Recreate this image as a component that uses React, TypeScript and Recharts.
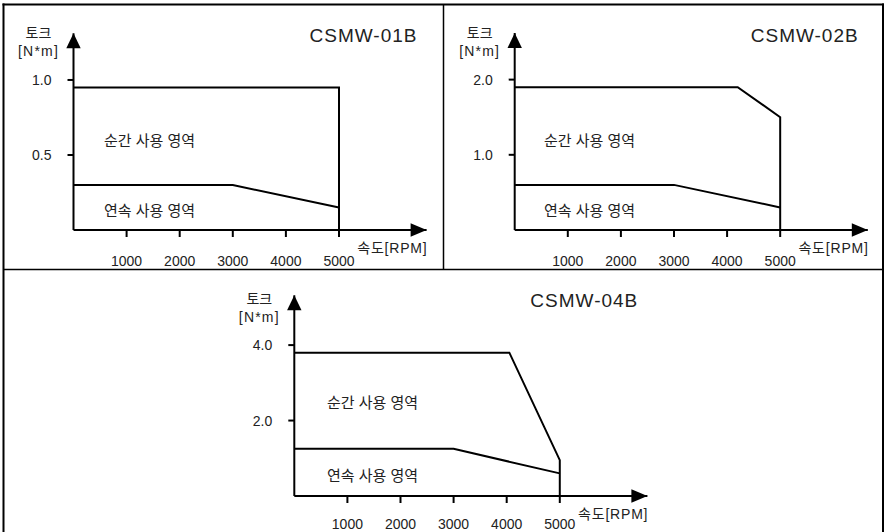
import React from 'react';
import { LineChart, Line, XAxis, YAxis, ReferenceDot } from 'recharts';

// ---------- data ----------
const rpmTicks = [1000, 2000, 3000, 4000, 5000];
const RPM_AXIS_END = 6650;

const titles = ['CSMW-01B', 'CSMW-02B', 'CSMW-04B'];
const peakLabel = '순간 사용 영역';
const contLabel = '연속 사용 영역';
const yLabelTop = '토크';
const yLabelUnit = '[N*m]';
const xLabel = '속도[RPM]';

const torqueTicks01 = [0.5, 1.0];
const torqueTicks02 = [1.0, 2.0];
const torqueTicks04 = [2.0, 4.0];

const torqueAxisEnd01 = 1.311;
const torqueAxisEnd02 = 2.62;
const torqueAxisEnd04 = 5.32;

const peak01 = [
  { rpm: 0, torque: 0.95 },
  { rpm: 5000, torque: 0.95 },
  { rpm: 5000, torque: 0 },
];
const cont01 = [
  { rpm: 0, torque: 0.3 },
  { rpm: 3000, torque: 0.3 },
  { rpm: 5000, torque: 0.15 },
];
const peak02 = [
  { rpm: 0, torque: 1.9 },
  { rpm: 4200, torque: 1.9 },
  { rpm: 5000, torque: 1.5 },
  { rpm: 5000, torque: 0 },
];
const cont02 = [
  { rpm: 0, torque: 0.6 },
  { rpm: 3000, torque: 0.6 },
  { rpm: 5000, torque: 0.3 },
];
const peak04 = [
  { rpm: 0, torque: 3.8 },
  { rpm: 4050, torque: 3.8 },
  { rpm: 5000, torque: 0.95 },
  { rpm: 5000, torque: 0 },
];
const cont04 = [
  { rpm: 0, torque: 1.25 },
  { rpm: 3000, torque: 1.25 },
  { rpm: 5000, torque: 0.6 },
];

// ---------- styles / layout ----------
const LATIN = '"Liberation Sans", Arial, "Noto Sans CJK KR", sans-serif';
const TEXT = '#222';

const panels = [
  {
    title: titles[0], peak: peak01, cont: cont01, yTicks: torqueTicks01, yMax: torqueAxisEnd01,
    left: 0, top: 0, width: 442, height: 275,
    margin: { top: 33.3, right: 15.4, bottom: 0, left: 13.5 }, xAxisHeight: 45, tickGap: 19.5,
    ox: 73.5, oy: 230, peakY: 145.6, contY: 215.6, labelX: 104, titleY: 42,
  },
  {
    title: titles[1], peak: peak02, cont: cont02, yTicks: torqueTicks02, yMax: torqueAxisEnd02,
    left: 442, top: 0, width: 443, height: 275,
    margin: { top: 33, right: 17.2, bottom: 0, left: 12.7 }, xAxisHeight: 45, tickGap: 19.5,
    ox: 514.7, oy: 230, peakY: 145.6, contY: 215.6, labelX: 544, titleY: 42,
  },
  {
    title: titles[2], peak: peak04, cont: cont04, yTicks: torqueTicks04, yMax: torqueAxisEnd04,
    left: 220, top: 266, width: 440, height: 280,
    margin: { top: 29.3, right: 12.6, bottom: 0, left: 14.3 }, xAxisHeight: 50, tickGap: 16,
    ox: 294.3, oy: 496, peakY: 408.3, contY: 480.8, labelX: 327, titleY: 307,
  },
];

const ArrowRight = (props: any) => {
  const { cx, cy } = props;
  return <path d={`M${cx},${cy} L${cx - 16},${cy - 6.8} L${cx - 16},${cy + 6.8} Z`} fill="#000" />;
};
const ArrowUp = (props: any) => {
  const { cx, cy } = props;
  return <path d={`M${cx},${cy} L${cx - 7.2},${cy + 15} L${cx + 7.2},${cy + 15} Z`} fill="#000" />;
};

function Panel({ cfg }: { cfg: any }) {
  return (
    <div style={{ position: 'absolute', left: cfg.left, top: cfg.top }}>
      <LineChart width={cfg.width} height={cfg.height} margin={cfg.margin}>
        <XAxis
          type="number"
          dataKey="rpm"
          domain={[0, RPM_AXIS_END]}
          ticks={rpmTicks}
          interval={0}
          allowDataOverflow
          height={cfg.xAxisHeight}
          tickSize={7}
          tickMargin={cfg.tickGap}
          axisLine={{ stroke: '#000', strokeWidth: 2 }}
          tickLine={{ stroke: '#000', strokeWidth: 2 }}
          tick={{ fill: TEXT, fontSize: 14, fontFamily: LATIN }}
        />
        <YAxis
          type="number"
          domain={[0, cfg.yMax]}
          ticks={cfg.yTicks}
          interval={0}
          allowDataOverflow
          width={60}
          tickSize={6}
          tickMargin={16}
          tickFormatter={(v: number) => v.toFixed(1)}
          axisLine={{ stroke: '#000', strokeWidth: 2 }}
          tickLine={{ stroke: '#000', strokeWidth: 2 }}
          tick={{ fill: TEXT, fontSize: 14, fontFamily: LATIN }}
        />
        <Line data={cfg.peak} dataKey="torque" type="linear" stroke="#000" strokeWidth={2}
          dot={false} activeDot={false} isAnimationActive={false} />
        <Line data={cfg.cont} dataKey="torque" type="linear" stroke="#000" strokeWidth={2}
          dot={false} activeDot={false} isAnimationActive={false} />
        <ReferenceDot x={RPM_AXIS_END} y={0} r={0} shape={ArrowRight} ifOverflow="visible" />
        <ReferenceDot x={0} y={cfg.yMax} r={0} shape={ArrowUp} ifOverflow="visible" />
      </LineChart>
    </div>
  );
}

export default function App() {
  return (
    <div style={{ position: 'absolute', left: 0, top: 0, width: 885, height: 532, overflow: 'hidden', background: '#fff' }}>
      {panels.map((p, i) => <Panel key={i} cfg={p} />)}
      <svg width={885} height={532} style={{ position: 'absolute', left: 0, top: 0, pointerEvents: 'none' }}>
        {/* frame */}
        <g stroke="#000" fill="none">
          <line x1={3.5} y1={3.5} x2={3.5} y2={532} strokeWidth={2} />
          <line x1={2.5} y1={4.5} x2={884} y2={4.5} strokeWidth={2} />
          <line x1={883} y1={3.5} x2={883} y2={532} strokeWidth={2} />
          <line x1={3} y1={269.5} x2={884} y2={269.5} strokeWidth={1.5} />
          <line x1={443.5} y1={4} x2={443.5} y2={269.5} strokeWidth={1.5} />
        </g>
        {panels.map((p, i) => (
          <g key={i} fill={TEXT} fontFamily={LATIN}>
            <text x={p.ox + 344} y={p.titleY} textAnchor="end" fontSize={19} letterSpacing={1}>{p.title}</text>
            <text x={p.ox - 35} y={p.oy - 192.5} textAnchor="middle" fontSize={14}>{yLabelTop}</text>
            <text x={p.ox - 35} y={p.oy - 174.5} textAnchor="middle" fontSize={14} letterSpacing={1.2}>{yLabelUnit}</text>
            <text x={p.labelX} y={p.peakY} fontSize={15}>{peakLabel}</text>
            <text x={p.labelX} y={p.contY} fontSize={15}>{contLabel}</text>
            <text x={p.ox + 354} y={p.oy + 23} textAnchor="end" fontSize={14} letterSpacing={0.8}>{xLabel}</text>
          </g>
        ))}
      </svg>
    </div>
  );
}
